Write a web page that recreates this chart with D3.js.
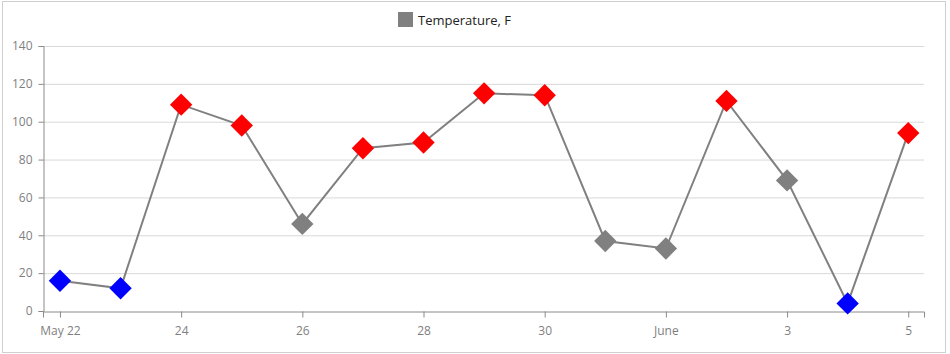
<!DOCTYPE html>
<html>
<head>
<meta charset="utf-8">
<script src="https://cdn.jsdelivr.net/npm/d3@7"></script>
<style>
  body { margin: 0; background: white; }
  svg text { font-family: "Open Sans", "Noto Sans", sans-serif; }
</style>
</head>
<body>
<div id="chart"></div>
<script>
// data: one reading per day, May 22 .. June 5
const days = [
    "2023-05-22", "2023-05-23", "2023-05-24", "2023-05-25", "2023-05-26",
    "2023-05-27", "2023-05-28", "2023-05-29", "2023-05-30", "2023-05-31",
    "2023-06-01", "2023-06-02", "2023-06-03", "2023-06-04", "2023-06-05"
];
const temps = [16, 12, 109, 98, 46, 86, 89, 115, 114, 37, 33, 111, 69, 4, 94];
const yTicks = [0, 20, 40, 60, 80, 100, 120, 140];
const xTickDays = ["2023-05-22", "2023-05-24", "2023-05-26", "2023-05-28",
    "2023-05-30", "2023-06-01", "2023-06-03", "2023-06-05"];
const seriesName = "Temperature, F";

const parse = d3.timeParse("%Y-%m-%d");
const data = days.map((d, i) => ({ date: parse(d), value: temps[i] }));

const width = 950;
const height = 354;
const margin = { top: 46, right: 26, bottom: 43, left: 43 };

const svg = d3.select("#chart")
    .append("svg")
    .attr("width", width)
    .attr("height", height);

// outer frame
svg.append("rect")
    .attr("x", 2.5).attr("y", 1.5)
    .attr("width", 943).attr("height", 351)
    .attr("fill", "none")
    .attr("stroke", "#cfcfcf");

const dayMs = 86400000;
const first = data[0].date, last = data[data.length - 1].date;
const x = d3.scaleTime()
    .domain([new Date(+first - 0.28 * dayMs), new Date(+last + 0.26 * dayMs)])
    .range([margin.left, width - margin.right]);

const y = d3.scaleLinear()
    .domain([0, 140])
    .range([height - margin.bottom, margin.top]);

// grid
svg.append("g")
    .selectAll("line")
    .data(yTicks.slice(1))
    .enter()
    .append("line")
    .attr("x1", margin.left)
    .attr("x2", width - margin.right)
    .attr("y1", d => y(d) + 0.5)
    .attr("y2", d => y(d) + 0.5)
    .attr("stroke", "#d9d9d9");

const fmt = d => {
    if (d.getDate() === 1) return d3.timeFormat("%B")(d);
    if (+d === +first) return d3.timeFormat("%b %-d")(d);
    return d3.timeFormat("%-d")(d);
};

const xAxis = svg.append("g")
    .attr("transform", `translate(0,${height - margin.bottom + 0.5})`)
    .call(d3.axisBottom(x)
        .tickValues(xTickDays.map(parse))
        .tickFormat(fmt)
        .tickSizeOuter(0)
        .tickSize(6)
        .tickPadding(9));

const yAxis = svg.append("g")
    .attr("transform", `translate(${margin.left + 0.5},0)`)
    .call(d3.axisLeft(y)
        .tickValues(yTicks)
        .tickSizeOuter(0)
        .tickSize(5)
        .tickPadding(6));

[xAxis, yAxis].forEach(g => {
    g.select(".domain").attr("stroke", "#8a8a8a");
    g.selectAll(".tick line").attr("stroke", "#8a8a8a");
    g.selectAll(".tick text")
        .attr("fill", "#7f7f7f")
        .style("font-size", "12px");
});

// line
const line = d3.line()
    .x(d => x(d.date))
    .y(d => y(d.value));

svg.append("path")
    .datum(data)
    .attr("d", line)
    .attr("fill", "none")
    .attr("stroke", "#808080")
    .attr("stroke-width", 2);

const colorOf = v => v < 20 ? "#0000ff" : (v > 80 ? "#ff0000" : "#808080");

svg.selectAll("path.marker")
    .data(data)
    .enter()
    .append("path")
    .attr("class", "marker")
    .attr("d", d3.symbol().type(d3.symbolSquare).size(250))
    .attr("transform", d => `translate(${x(d.date)},${y(d.value)}) rotate(45)`)
    .attr("fill", d => colorOf(d.value));

// legend
const legend = svg.append("g").attr("transform", "translate(398,12)");
legend.append("rect")
    .attr("width", 15).attr("height", 15)
    .attr("fill", "#808080");
legend.append("text")
    .attr("x", 20).attr("y", 13)
    .attr("fill", "#222")
    .style("font-size", "13px")
    .text(seriesName);
</script>
</body>
</html>
